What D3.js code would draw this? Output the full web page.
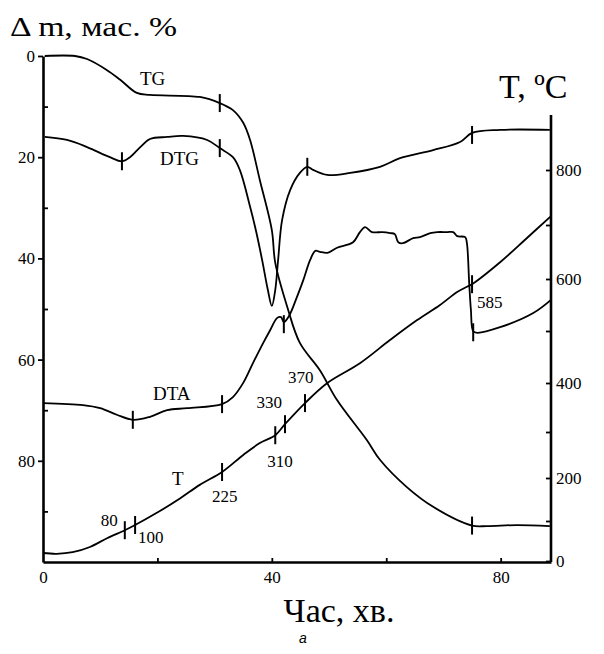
<!DOCTYPE html>
<html>
<head>
<meta charset="utf-8">
<script src="https://cdn.jsdelivr.net/npm/d3@7"></script>
<style>
  body { margin: 0; background: #fff; }
  text { font-family: "Liberation Serif", "Times New Roman", serif; fill: #000; }
</style>
</head>
<body>
<svg id="chart" width="604" height="654"></svg>
<script>
// Time, min / mass loss, % (TG)
const tgData = [[0.3,0],[5.6,0],[7.7,0.6],[11.2,2.8],[13.5,4.7],[16.4,7.3],[18.7,7.7],[27.4,8.1],
  [30.9,9.3],[33.2,10.7],[35.0,13.2],[36.2,16.6],[37.9,24.5],[40.0,34.4],[40.6,40.9],[42.7,49.6],
  [44.9,56.7],[48.4,62.1],[51.4,68.0],[56.6,75.9],[58.9,79.8],[63.6,85.2],[68.2,89.1],[75.0,92.8],
  [77.6,92.9],[82.9,92.7],[88.6,92.9]];

// DTG (plotted in the mass frame)
const dtgData = [[0.3,16.0],[4.2,16.6],[7.7,18.0],[11.7,20.0],[13.8,20.8],[15.2,20.0],[17.0,18.0],
  [18.7,16.4],[21.7,16.0],[24.5,15.8],[28.7,16.6],[30.9,18.2],[33.2,20.0],[34.4,22.5],[36.2,29.8],
  [37.2,34.4],[38.3,40.3],[39.3,46.2],[40.0,49.4],[40.6,46.2],[41.1,40.3],[41.8,32.4],[43.2,26.5],
  [44.9,23.1],[46.2,21.9],[47.2,22.5],[49.7,23.5],[53.7,23.1],[58.9,21.9],[62.4,20.2],[68.2,18.6],
  [72.9,17.0],[75.0,15.2],[79.9,14.6],[88.6,14.6]];

// DTA (plotted in the mass frame)
const dtaData = [[0,68.6],[7.0,69.0],[10.0,69.6],[12.9,70.9],[15.7,71.9],[18.7,71.3],[21.7,70.0],
  [25.2,69.6],[31.3,68.8],[33.2,67.4],[35.0,64.6],[36.7,60.7],[38.5,56.7],[39.7,54.2],[40.9,51.8],
  [41.6,51.6],[42.1,52.6],[43.0,51.4],[44.4,47.6],[45.5,44.3],[46.7,40.3],[47.6,38.5],[48.4,38.7],
  [49.7,38.9],[51.4,37.9],[54.2,36.8],[55.4,34.8],[56.3,33.8],[57.5,34.8],[59.3,34.8],[60.7,35.0],
  [61.5,35.2],[62.1,36.8],[62.9,37.0],[64.7,36.0],[65.9,35.8],[67.7,35.0],[68.9,34.8],[70.6,34.8],
  [71.7,34.8],[72.4,35.6],[73.8,35.8],[74.1,37.0],[74.5,44.9],[74.8,50.2],[75.2,54.4],[75.9,54.7],
  [79.9,53.6],[85.7,50.8],[88.8,48.2]];

// Temperature, °C
const tData = [[0,20],[2.4,18],[5.2,22],[8.2,35],[11.2,57],[14.3,77],[16.1,90],[19.9,119],
  [24.0,153],[27.4,184],[31.3,213],[35.0,250],[37.9,276],[40.6,293],[42.3,316],[45.8,359],
  [49.7,400],[55.4,438],[60.7,483],[65.4,521],[69.4,550],[72.4,575],[74.1,585],[75.0,590],
  [79.9,631],[84.6,676],[88.8,716]];

// marks on curves
const tgMarks = [[30.9,9.3],[75.0,92.8]];
const dtgMarks = [[13.8,20.8],[30.9,18.2],[46.2,21.9],[75.0,15.6]];
const dtaMarks = [[15.7,71.9],[31.3,68.8],[42.1,53.0],[75.2,54.6]];
const tMarkTimes = [14.3, 16.1, 31.3, 40.6, 42.3, 45.8, 75.0];
const tMarkTemps = [77, 90, 213, 293, 316, 359, 590];
const tMarkLabels = ["80", "100", "225", "310", "330", "370", "585"];

// axes ticks
const massTicks = [0, 20, 40, 60, 80];
const massMinor = [10, 30, 50, 70, 90];
const timeTicks = [0, 40, 80];
const timeMinor = [20, 40, 60, 80];
const tempTicks = [0, 100, 200, 300, 400, 500, 600, 700, 800];
const tempLabels = [0, 200, 400, 600, 800];

const svg = d3.select("#chart");

const x = d3.scaleLinear().domain([0, 88.8]).range([43, 551]);
const yM = d3.scaleLinear().domain([0, 100]).range([56, 562]);
// temperature axis of the recorder is not linear
const yT = d3.scaleLinear()
  .domain([0, 100, 200, 300, 400, 500, 600, 700, 800, 900])
  .range([561, 521, 478, 432, 383, 331, 279, 225, 170, 115]);

// Axes
const axW = 2.6;
function styleAxis(g) {
  g.select(".domain").attr("stroke", "#000").attr("stroke-width", axW);
  g.selectAll(".tick line").attr("stroke", "#000").attr("stroke-width", 1.8);
  g.selectAll(".tick text").style("font-size", "17px")
    .style("font-family", "'Liberation Serif', serif").attr("fill", "#000");
}

svg.append("g").attr("transform", "translate(43,0)")
  .call(d3.axisLeft(yM).tickValues(massTicks).tickSize(5).tickSizeOuter(0).tickPadding(3))
  .call(styleAxis);
svg.append("g").attr("transform", "translate(43,0)")
  .call(d3.axisLeft(yM).tickValues(massMinor).tickSize(-5).tickSizeOuter(0).tickFormat(""))
  .call(g => g.select(".domain").remove())
  .call(styleAxis);

svg.append("g").attr("transform", "translate(0,562)")
  .call(d3.axisBottom(x).tickValues(timeTicks).tickSize(0).tickSizeOuter(0).tickPadding(9))
  .call(styleAxis);
svg.append("g").attr("transform", "translate(0,562)")
  .call(d3.axisBottom(x).tickValues(timeMinor).tickSize(-4).tickSizeOuter(0).tickFormat(""))
  .call(g => g.select(".domain").remove())
  .call(styleAxis);

svg.append("g").attr("transform", "translate(551,0)")
  .call(d3.axisRight(yT).tickValues(tempTicks).tickSize(-5).tickSizeOuter(0).tickPadding(5)
    .tickFormat(d => tempLabels.includes(d) ? d : ""))
  .call(g => g.select(".domain").attr("d", `M0,${yT(900)}V562`))
  .call(styleAxis);

// Curves
const lineM = d3.line().x(d => x(d[0])).y(d => yM(d[1])).curve(d3.curveCatmullRom.alpha(0.5));
const lineT = d3.line().x(d => x(d[0])).y(d => yT(d[1])).curve(d3.curveCatmullRom.alpha(0.5));

[tgData, dtgData, dtaData].forEach(data => {
  svg.append("path").datum(data).attr("d", lineM)
    .attr("fill", "none").attr("stroke", "#000").attr("stroke-width", 1.8);
});
svg.append("path").datum(tData).attr("d", lineT)
  .attr("fill", "none").attr("stroke", "#000").attr("stroke-width", 1.8);

// vertical marks on curves
const markLen = 18;
const massMarks = tgMarks.concat(dtgMarks, dtaMarks);
svg.selectAll(".mmark").data(massMarks).enter().append("line")
  .attr("x1", d => x(d[0])).attr("x2", d => x(d[0]))
  .attr("y1", d => yM(d[1]) - markLen / 2).attr("y2", d => yM(d[1]) + markLen / 2)
  .attr("stroke", "#000").attr("stroke-width", 2);

const tMarks = tMarkTimes.map((t, i) => ({ t: t, v: tMarkTemps[i], label: tMarkLabels[i] }));
svg.selectAll(".tmark").data(tMarks).enter().append("line")
  .attr("x1", d => x(d.t)).attr("x2", d => x(d.t))
  .attr("y1", d => yT(d.v) - markLen / 2).attr("y2", d => yT(d.v) + markLen / 2)
  .attr("stroke", "#000").attr("stroke-width", 2);

// label offsets for the temperature marks
const tLabelOffsets = [[-7, -4, "end"], [3, 18, "start"], [-10, 30, "start"], [-8, 32, "start"],
  [-3, -16, "end"], [-17, -20, "start"], [5, 24, "start"]];
svg.selectAll(".tlabel").data(tMarks).enter().append("text")
  .attr("x", (d, i) => x(d.t) + tLabelOffsets[i][0])
  .attr("y", (d, i) => yT(d.v) + tLabelOffsets[i][1])
  .attr("text-anchor", (d, i) => tLabelOffsets[i][2])
  .style("font-size", "17px")
  .text(d => d.label);

// curve names
const names = [["TG", 140, 85], ["DTG", 160, 165], ["DTA", 153, 400], ["T", 172, 485]];
names.forEach(n => {
  svg.append("text").attr("x", n[1]).attr("y", n[2]).style("font-size", "19px").text(n[0]);
});

// axis titles
svg.append("text").attr("x", 10).attr("y", 36)
  .attr("textLength", 167).attr("lengthAdjust", "spacingAndGlyphs")
  .style("font-size", "28px").text("\u0394 m, мас. %");
svg.append("text").attr("x", 499).attr("y", 98)
  .style("font-size", "34px").text("T, \u00BAC");
svg.append("text").attr("x", 339).attr("y", 622).attr("text-anchor", "middle")
  .style("font-size", "34px").text("Час, хв.");
svg.append("text").attr("x", 303).attr("y", 643).attr("text-anchor", "middle")
  .style("font-size", "14px").style("font-style", "italic")
  .style("font-family", "'Liberation Sans', Arial, sans-serif").text("а");
</script>
</body>
</html>
